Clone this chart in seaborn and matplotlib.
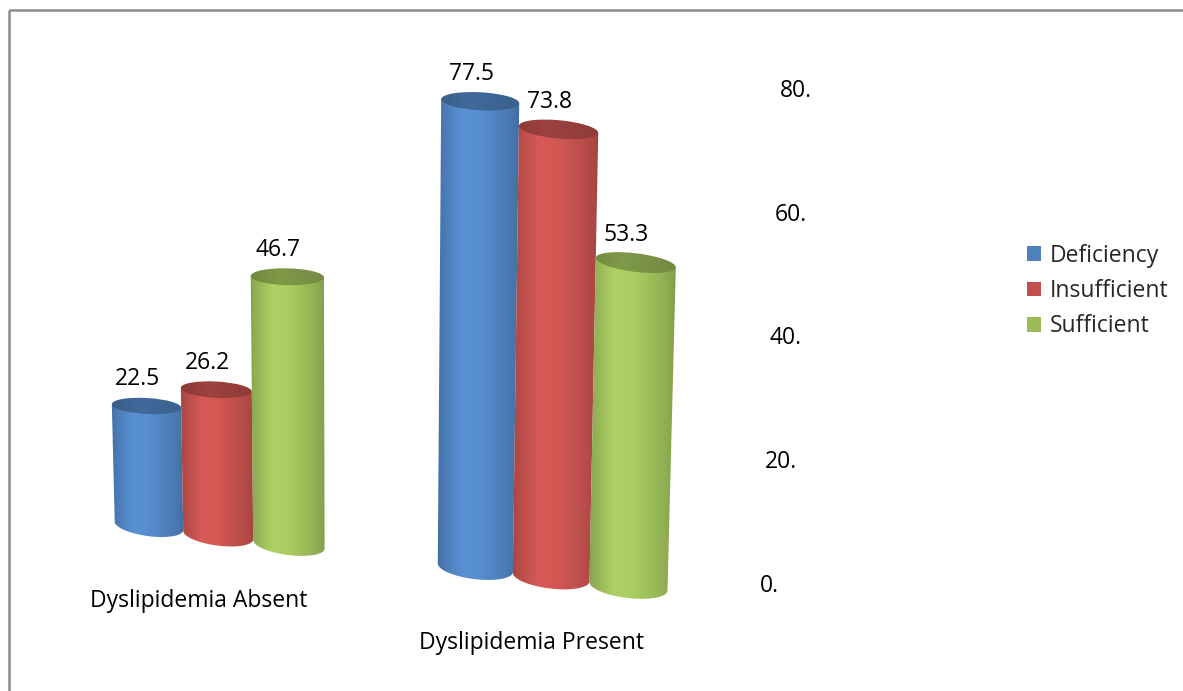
import numpy as np
import pandas as pd
import matplotlib
matplotlib.use("Agg")
import matplotlib.pyplot as plt
import matplotlib.transforms as mtransforms
from matplotlib.colors import to_rgb
from matplotlib.patches import Ellipse, PathPatch, Patch, Rectangle
from matplotlib.path import Path
import seaborn as sns

# ---- data ---------------------------------------------------------------
groups = ["Dyslipidemia Absent", "Dyslipidemia Present"]
levels = ["Deficiency", "Insufficient", "Sufficient"]
absent_pct = [22.5, 26.2, 46.7]
present_pct = [77.5, 73.8, 53.3]
value_ticks = [0, 20, 40, 60, 80]
level_colors = ["#4F81BD", "#C0504D", "#9BBB59"]

df = pd.DataFrame({
    "group": np.repeat(groups, len(levels)),
    "level": levels * len(groups),
    "pct": absent_pct + present_pct,
})

# ---- figure -------------------------------------------------------------
W, H = 1183, 691
sns.set_theme(style="white")
plt.rcParams["font.family"] = ["Open Sans", "DejaVu Sans"]
FS = 16.5

fig = plt.figure(figsize=(W / 100, H / 100), dpi=100)
fig.patch.set_facecolor("white")
ax = fig.add_axes([0, 0, 1, 1])
canvas = fig.add_axes([0, 0, 1, 1])
canvas.set_xlim(0, W)
canvas.set_ylim(H, 0)
canvas.axis("off")
canvas.patch.set_alpha(0)


def view(u, v):
    """Oblique 3-D view: category position u and value v -> canvas pixels."""
    u = np.asarray(u, float)
    v = np.asarray(v, float)
    x = 218 + 318 * u + 15 * u ** 2 + (-0.07 + 0.17 * u) * v
    y = 535 + 42 * u - (5.55 + 0.92 * u - 0.4 * u ** 2) * v
    return x, y


def wall(v):
    """Position of value-axis labels on the back wall."""
    v = np.asarray(v, float)
    return 760 + 0.25 * v, 586 - 6.19 * v


class ChartView(mtransforms.Transform):
    input_dims = output_dims = 2
    is_separable = False
    has_inverse = False

    def transform_non_affine(self, values):
        values = np.asarray(values, float)
        x, y = view(values[:, 0], values[:, 1])
        return np.column_stack([x, y])


sns.barplot(data=df, x="group", y="pct", hue="level", order=groups,
            hue_order=levels, palette=level_colors, width=0.66,
            saturation=1, legend=False, ax=ax)
ax.axis("off")

to_canvas = ChartView() + canvas.transData
bars = []
for container in ax.containers:
    for bar in container:
        bar.set_transform(to_canvas)
        bar.set_clip_on(False)
        bars.append(bar)
bars.sort(key=lambda b: b.get_x())

body_s = [0.0, 0.06, 0.30, 0.50, 0.80, 0.94, 1.0]
body_m = [0.80, 0.92, 1.12, 1.10, 0.97, 0.88, 0.78]
top_s = [0.0, 0.4, 1.0]
top_m = [0.72, 0.82, 0.74]
CAP_DEPTH = 0.23    # ellipse half-height / half-width for the top caps
BASE_DEPTH = 0.30   # same for the rounded base


def strip(color, s_knots, m_knots, n=240):
    s = np.linspace(0, 1, n)
    m = np.interp(s, s_knots, m_knots)
    rgb = np.clip(np.array(to_rgb(color))[None, :] * m[:, None], 0, 1)
    return rgb[None, :, :]


def pt(u, v):
    x, y = view(u, v)
    return np.array([float(x), float(y)])


for i, bar in enumerate(bars):
    x0, w, h = bar.get_x(), bar.get_width(), bar.get_height()
    color = bar.get_facecolor()[:3]
    BL, BR = pt(x0, 0), pt(x0 + w, 0)
    TL, TR = pt(x0, h), pt(x0 + w, h)

    # body with rounded front base
    a_vec = (BR - BL) / 2
    half_w = np.hypot(*a_vec)
    nrm = np.array([-a_vec[1], a_vec[0]]) / half_w
    b_vec = nrm * BASE_DEPTH * half_w
    th = np.linspace(np.pi, 0, 60)
    arc = (BL + BR) / 2 + np.cos(th)[:, None] * a_vec + np.sin(th)[:, None] * b_vec
    verts = np.vstack([TL, arc, TR, TL])
    codes = [Path.MOVETO] + [Path.LINETO] * (len(verts) - 2) + [Path.CLOSEPOLY]
    body = PathPatch(Path(verts, codes), transform=canvas.transData)

    xl = min(TL[0], BL[0]) - 2
    xr = max(TR[0], BR[0]) + 2
    yt = min(TL[1], TR[1]) - 30
    yb = max(BL[1], BR[1]) + 30
    z = 2 + 3 * i
    im = canvas.imshow(strip(color, body_s, body_m), extent=[xl, xr, yb, yt],
                       aspect="auto", interpolation="bilinear", zorder=z)
    im.set_clip_path(body)

    # top cap
    c_top = (TL + TR) / 2
    half_top = np.hypot(*(TR - TL)) / 2
    ang = np.degrees(np.arctan2(TR[1] - TL[1], TR[0] - TL[0]))
    cap = Ellipse(c_top, 2 * half_top, 2 * CAP_DEPTH * half_top, angle=ang,
                  transform=canvas.transData)
    im2 = canvas.imshow(strip(color, top_s, top_m), extent=[xl, xr, yb, yt],
                        aspect="auto", interpolation="bilinear", zorder=z + 1)
    im2.set_clip_path(cap)

    # value label
    lx, ly = view(x0 + w / 2, h)
    canvas.text(float(lx) - 9, float(ly) - 27, f"{h:.1f}", ha="center",
                va="center", fontsize=FS, color="black", zorder=50)

canvas.set_xlim(0, W)
canvas.set_ylim(H, 0)

# value axis labels
for t in value_ticks:
    tx, ty = wall(t)
    canvas.text(float(tx), float(ty), f"{t}.", ha="left", va="center",
                fontsize=FS, color="black")

# category labels
for g, name in enumerate(groups):
    gx, gy = view(g, 0)
    canvas.text(float(gx) - 19, float(gy) + 66, name, ha="center", va="center",
                fontsize=FS, color="black")

# legend
handles = [Patch(facecolor=c, edgecolor="none", label=l)
           for c, l in zip(level_colors, levels)]
canvas.legend(handles=handles, loc="center left", bbox_to_anchor=(1027, 291),
              bbox_transform=canvas.transData, frameon=False, fontsize=FS,
              handlelength=0.62, handleheight=0.62, handletextpad=0.38,
              labelspacing=0.49, borderpad=0, borderaxespad=0)

# outer frame
canvas.add_patch(Rectangle((9, 9.5), 1300, 800, fill=False,
                           edgecolor="#8c8c8c", linewidth=1.8, zorder=0))

fig.savefig("out.png", dpi=100, facecolor="white")
